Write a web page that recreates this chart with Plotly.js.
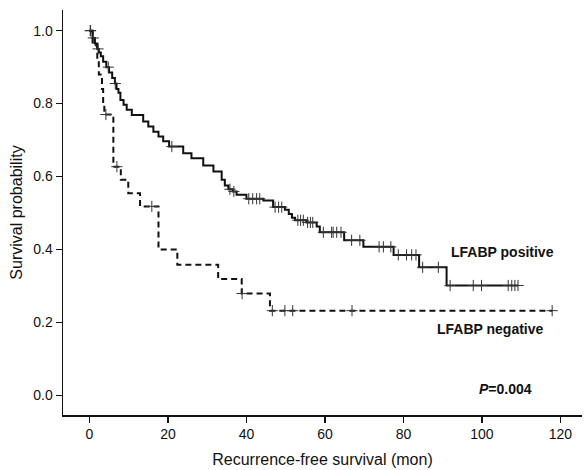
<!DOCTYPE html>
<html>
<head>
<meta charset="utf-8">
<script src="https://cdn.plot.ly/plotly-3.0.1.min.js"></script>
<style>html,body{margin:0;padding:0;background:#fff;}#chart{width:584px;height:470px;}</style>
</head>
<body>
<div id="chart"></div>
<script>
// LFABP positive: step times (months) and survival after each step
var posTimes = [0, 0.8, 1.4, 2.0, 2.4, 2.9, 3.5, 4.3, 5.0, 5.8, 6.5, 6.9, 7.4, 7.9, 8.7, 9.5, 10.8, 13.7, 15.0, 16.3, 17.6, 18.8, 20.3, 23.9, 26.0, 29.0, 31.6, 33.7, 34.5, 35.4, 36.5, 37.5, 40.0, 44.3, 46.8, 49.8, 50.8, 51.6, 52.4, 55.3, 57.9, 58.7, 64.9, 69.8, 77.5, 84.0, 91.0, 109.2];
var posSurv  = [1.0, 0.98, 0.965, 0.95, 0.94, 0.93, 0.915, 0.90, 0.885, 0.87, 0.855, 0.84, 0.83, 0.81, 0.797, 0.783, 0.769, 0.751, 0.737, 0.723, 0.710, 0.697, 0.682, 0.664, 0.650, 0.630, 0.614, 0.591, 0.575, 0.565, 0.559, 0.550, 0.539, 0.534, 0.516, 0.509, 0.497, 0.487, 0.480, 0.474, 0.463, 0.447, 0.425, 0.407, 0.385, 0.351, 0.301, 0.301];
var posCensor = [0.2, 1.0, 2.2, 4.8, 6.6, 21.0, 35.8, 36.8, 40.6, 41.6, 42.6, 43.4, 47.3, 48.2, 49.0, 53.1, 53.8, 54.5, 55.6, 56.3, 56.9, 59.6, 61.7, 62.1, 63.0, 64.1, 66.8, 68.9, 73.8, 74.9, 76.8, 78.7, 80.8, 82.1, 83.2, 84.9, 88.9, 91.9, 97.8, 99.9, 106.7, 107.6, 108.4, 109.2];

// LFABP negative
var negTimes = [0, 0.8, 2.0, 2.4, 3.2, 3.5, 3.8, 6.1, 8.0, 9.9, 12.9, 17.6, 22.4, 32.8, 38.8, 46.0, 117.9];
var negSurv  = [1.0, 0.96, 0.92, 0.88, 0.84, 0.80, 0.77, 0.627, 0.591, 0.554, 0.518, 0.400, 0.358, 0.319, 0.279, 0.232, 0.232];
var negCensor = [0.3, 4.2, 7.0, 15.9, 38.9, 46.6, 49.8, 51.8, 66.9, 117.9];

var xTicks = [0, 20, 40, 60, 80, 100, 120];
var yTicks = [0.0, 0.2, 0.4, 0.6, 0.8, 1.0];
var yTickText = ['0.0', '0.2', '0.4', '0.6', '0.8', '1.0'];

function survAt(times, surv, t) {
  var s = surv[0];
  for (var i = 0; i < times.length; i++) { if (times[i] <= t) s = surv[i]; }
  return s;
}
function censorY(times, surv, cens) { return cens.map(function (t) { return survAt(times, surv, t); }); }

var lineColor = '#111111';
var censorMarker = {symbol: 'cross-thin-open', size: 8, color: '#333333', line: {color: '#333333', width: 1}};
var traces = [
  {x: negTimes, y: negSurv, mode: 'lines', line: {shape: 'hv', color: lineColor, width: 2, dash: '6px,4px'}, hoverinfo: 'skip'},
  {x: negCensor, y: censorY(negTimes, negSurv, negCensor), mode: 'markers', marker: censorMarker, hoverinfo: 'skip'},
  {x: posTimes, y: posSurv, mode: 'lines', line: {shape: 'hv', color: lineColor, width: 2}, hoverinfo: 'skip'},
  {x: posCensor, y: censorY(posTimes, posSurv, posCensor), mode: 'markers', marker: censorMarker, hoverinfo: 'skip'}
];

var fnt = 'Liberation Sans, Arial, sans-serif';
var layout = {
  width: 584, height: 470,
  margin: {l: 63, r: 2, t: 10, b: 55},
  paper_bgcolor: '#fff', plot_bgcolor: '#fff',
  showlegend: false,
  font: {family: fnt, color: '#111', size: 14},
  xaxis: {
    range: [-6.73, 125.5], tickvals: xTicks, ticktext: xTicks.map(String),
    showgrid: false, zeroline: false, showline: true, linecolor: '#111', linewidth: 1.5,
    ticks: 'outside', ticklen: 6, tickcolor: '#111', tickwidth: 1.2,
    tickfont: {family: fnt, size: 14, color: '#111'},
    title: {text: 'Recurrence-free survival (mon)', font: {family: fnt, size: 16, color: '#111'}, standoff: 12}
  },
  yaxis: {
    range: [-0.0542, 1.0567], tickvals: yTicks, ticktext: yTickText,
    showgrid: false, zeroline: false, showline: true, linecolor: '#111', linewidth: 1.5,
    ticks: 'outside', ticklen: 6, tickcolor: '#111', tickwidth: 1.2,
    tickfont: {family: fnt, size: 14, color: '#111'},
    title: {text: 'Survival probability', font: {family: fnt, size: 16, color: '#111'}, standoff: 6}
  },
  annotations: [
    {x: 105.3, y: 0.394, xref: 'x', yref: 'y', text: '<b>LFABP positive</b>', showarrow: false, font: {family: fnt, size: 14, color: '#111'}},
    {x: 102.2, y: 0.181, xref: 'x', yref: 'y', text: '<b>LFABP negative</b>', showarrow: false, font: {family: fnt, size: 14, color: '#111'}},
    {x: 105.9, y: 0.017, xref: 'x', yref: 'y', text: '<b><i>P</i>=0.004</b>', showarrow: false, font: {family: fnt, size: 14, color: '#111'}}
  ]
};

Plotly.newPlot('chart', traces, layout, {displayModeBar: false, staticPlot: true});
</script>
</body>
</html>
